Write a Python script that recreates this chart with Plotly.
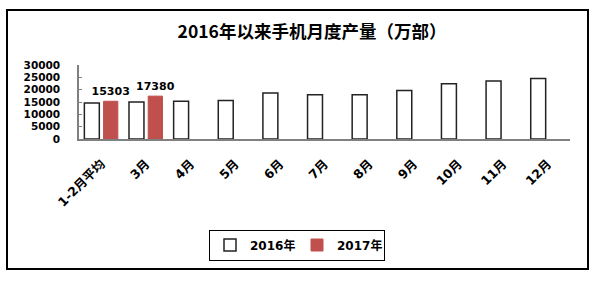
import plotly.graph_objects as go

categories = ["1-2月平均", "3月", "4月", "5月", "6月", "7月", "8月", "9月", "10月", "11月", "12月"]
values_2016 = [14600, 15000, 15300, 15600, 18600, 17900, 17900, 19700, 22400, 23500, 24500]
values_2017 = [15303, 17380, None, None, None, None, None, None, None, None, None]
series_names = ["2016年", "2017年"]
title_text = "2016年以来手机月度产量（万部）"

FONT = "DejaVu Sans, Noto Sans CJK SC, sans-serif"
CJK = "Noto Sans CJK SC, sans-serif"

fig = go.Figure()
fig.add_trace(go.Bar(
    x=categories, y=values_2016, name=series_names[0],
    marker=dict(color="white", line=dict(color="#222222", width=1.5)),
    width=0.335, offset=-0.38,
))
fig.add_trace(go.Bar(
    x=categories, y=values_2017, name=series_names[1],
    marker=dict(color="#C0504D", line=dict(color="#C0504D", width=1)),
    width=0.32, offset=0.05,
    text=[str(v) if v is not None else "" for v in values_2017],
    textposition="outside", cliponaxis=False, constraintext="none",
    textfont=dict(family=FONT, size=11, color="black", weight="bold"),
))

fig.update_layout(
    width=598, height=285,
    margin=dict(l=79, r=28, t=65, b=146, autoexpand=False),
    paper_bgcolor="white", plot_bgcolor="white",
    barmode="overlay",
    showlegend=True,
    title=dict(text=title_text, x=312 / 598, xref="container", xanchor="center",
               y=1 - 32 / 285, yref="container", yanchor="middle",
               font=dict(family=CJK, size=17.5, color="black", weight="bold")),
    legend=dict(orientation="h", xref="container", yref="container",
                x=297 / 598, xanchor="center", y=1 - 245 / 285, yanchor="middle",
                bgcolor="white", bordercolor="black", borderwidth=1,
                itemwidth=30, traceorder="normal", tracegroupgap=0,
                entrywidth=42,
                font=dict(family=FONT, size=12, color="black", weight="bold")),
    xaxis=dict(type="category", showline=True, linecolor="#808080", linewidth=1.5,
               showgrid=False, ticks="", tickangle=-45, ticklabelstandoff=11,
               automargin=False,
               tickfont=dict(family=FONT, size=12.5, color="black", weight="bold")),
    yaxis=dict(range=[0, 30000], dtick=5000, tickformat="d", showline=True,
               linecolor="#808080", linewidth=1.5,
               showgrid=False, ticks="inside", ticklen=3, tickcolor="#808080",
               ticklabelstandoff=15, zeroline=False, automargin=False,
               tickfont=dict(family=FONT, size=10.5, color="black", weight="bold")),
    shapes=[dict(type="rect", xref="paper", yref="paper",
                 x0=(7 - 79) / 491, x1=(588 - 79) / 491,
                 y0=(139 - 269) / 74, y1=(139 - 10) / 74,
                 line=dict(color="black", width=2), fillcolor="rgba(0,0,0,0)", layer="below")],
)

fig.write_html("out.html", config={"displayModeBar": False},
               post_script="document.body.style.margin='0';document.body.style.padding='0';")
